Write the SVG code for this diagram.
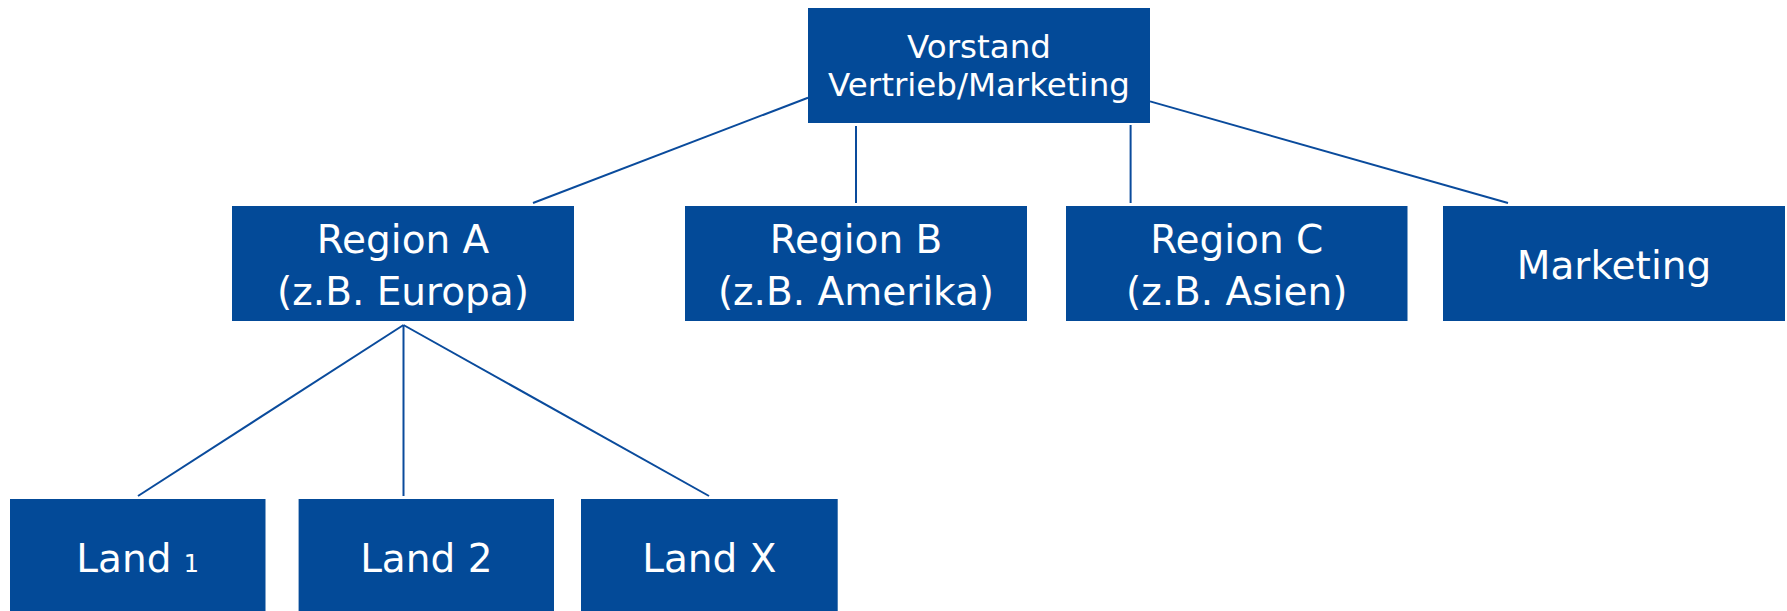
<svg xmlns="http://www.w3.org/2000/svg" width="1787" height="611" viewBox="0 0 1787 611">
<style>
.box{fill:#034a98}
.t{fill:#ffffff;font-family:"DejaVu Sans","Verdana",sans-serif;font-size:39px;text-anchor:middle}
.tt{font-size:32.5px}
.ln{stroke:#0a4b9c;stroke-width:2;fill:none}
</style>
<rect width="1787" height="611" fill="#ffffff"/>
<g id="connectors">
<line class="ln" x1="808" y1="97.7" x2="533" y2="203"/>
<line class="ln" x1="856" y1="126" x2="856" y2="203"/>
<line class="ln" x1="1130.6" y1="125" x2="1130.6" y2="203"/>
<line class="ln" x1="1150" y1="101.4" x2="1508" y2="203"/>
<line class="ln" x1="403.5" y1="325" x2="138" y2="496"/>
<line class="ln" x1="403.5" y1="325" x2="403.5" y2="496"/>
<line class="ln" x1="403.5" y1="325" x2="709" y2="496"/>
</g>
<g id="vorstand">
<rect class="box" x="808" y="8" width="342" height="115"/>
<text class="t tt" x="979" y="58">Vorstand</text>
<text class="t tt" x="979" y="96">Vertrieb/Marketing</text>
</g>
<g id="regionA">
<rect class="box" x="232" y="206" width="342" height="115"/>
<text class="t" x="403" y="252.7">Region A</text>
<text class="t" x="403" y="305">(z.B. Europa)</text>
</g>
<g id="regionB">
<rect class="box" x="685" y="206" width="342" height="115"/>
<text class="t" x="856" y="252.7">Region B</text>
<text class="t" x="856" y="305">(z.B. Amerika)</text>
</g>
<g id="regionC">
<rect class="box" x="1066" y="206" width="341.5" height="115"/>
<text class="t" x="1236.7" y="252.7">Region C</text>
<text class="t" x="1236.7" y="305">(z.B. Asien)</text>
</g>
<g id="marketing">
<rect class="box" x="1443" y="206" width="342" height="115"/>
<text class="t" x="1614" y="278.7">Marketing</text>
</g>
<g id="land1">
<rect class="box" x="10" y="499" width="255.5" height="112"/>
<text class="t" x="137.7" y="571.7">Land <tspan font-size="24">1</tspan></text>
</g>
<g id="land2">
<rect class="box" x="298.6" y="499" width="255.4" height="112"/>
<text class="t" x="426.3" y="571.7">Land 2</text>
</g>
<g id="landX">
<rect class="box" x="581" y="499" width="256.7" height="112"/>
<text class="t" x="709.3" y="571.7">Land X</text>
</g>
</svg>
